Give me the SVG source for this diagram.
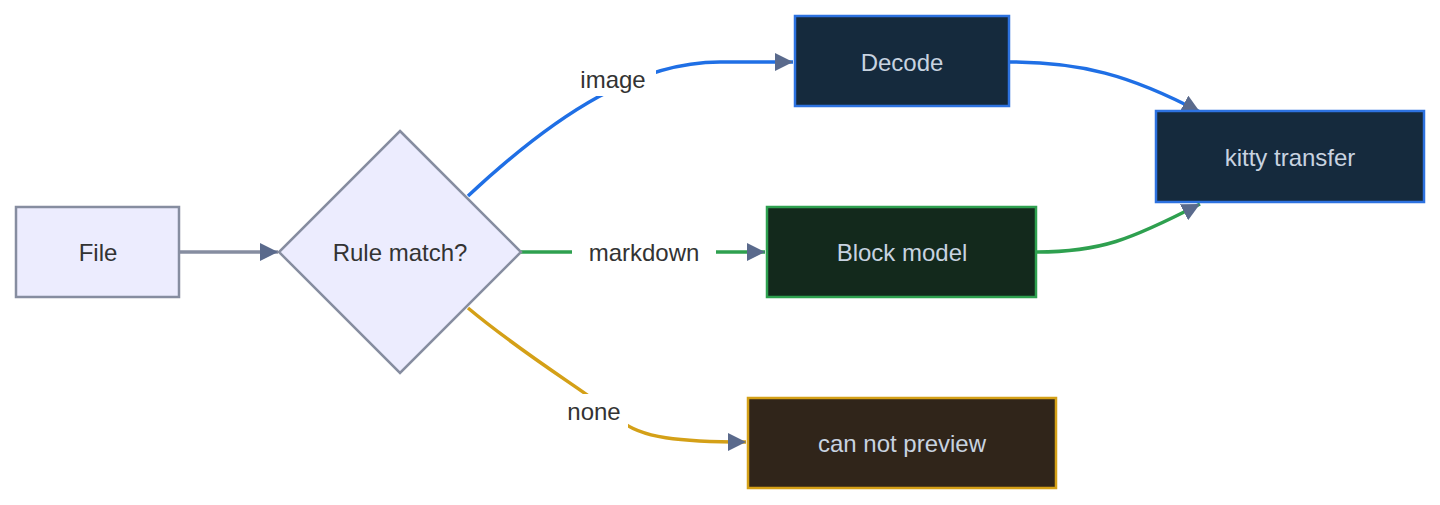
<svg xmlns="http://www.w3.org/2000/svg" width="1440" height="505" viewBox="0 0 1440 505">
<style>
text{font-family:"Liberation Sans",Arial,sans-serif;font-size:24px;text-anchor:middle;dominant-baseline:central}
.lt{fill:#333}
.dk{fill:#c8d3e0}
.e{fill:none;stroke-width:3.5}
.lbl{fill:#fff}
</style>
<defs>
<marker id="a" viewBox="0 0 10 10" refX="9" refY="5" markerWidth="7" markerHeight="7" markerUnits="userSpaceOnUse" orient="auto" style="overflow:visible">
<path d="M0,0 L10,5 L0,10 z" fill="#5a6a8c" transform="scale(1.8) translate(-4,-2.2)"/>
</marker>
<marker id="b" viewBox="0 0 18 18" refX="18" refY="9" markerWidth="18" markerHeight="18" markerUnits="userSpaceOnUse" orient="auto">
<path d="M0,0 L18,9 L0,18 z" fill="#5a6a8c"/>
</marker>
</defs>
<rect width="1440" height="505" fill="#fff"/>
<g id="edges">
<path class="e" stroke="#868da0" d="M180,252 H278" marker-end="url(#b)"/>
<path class="e" stroke="#1f6fe5" d="M468,196 C560,110 640,62 720,62 H793" marker-end="url(#b)"/>
<path class="e" stroke="#2ea04f" d="M521,252 H765" marker-end="url(#b)"/>
<path class="e" stroke="#d4a017" d="M468,308 C530,360 600,400 620,420 C640,438 680,442 746,442" marker-end="url(#b)"/>
<path class="e" stroke="#1f6fe5" d="M1010,62 C1080,62 1130,75 1200,112" marker-end="url(#b)"/>
<path class="e" stroke="#2ea04f" d="M1037,252 C1100,252 1130,240 1200,204" marker-end="url(#b)"/>
<rect class="lbl" x="570" y="62" width="86" height="34"/>
<text class="lt" x="613" y="79">image</text>
<rect class="lbl" x="572" y="236" width="144" height="34"/>
<text class="lt" x="644" y="252">markdown</text>
<rect class="lbl" x="560" y="394" width="68" height="34"/>
<text class="lt" x="594" y="411">none</text>
</g>
<g id="file"><rect x="16" y="207" width="163" height="90" fill="#ececfe" stroke="#868da0" stroke-width="2.5"/><text class="lt" x="98" y="252">File</text></g>
<g id="rule"><polygon points="400,131 521,252 400,373 279,252" fill="#ececfe" stroke="#868da0" stroke-width="2.5"/><text class="lt" x="400" y="252">Rule match?</text></g>
<g id="decode"><rect x="795" y="16" width="214" height="90" fill="#152a3d" stroke="#2d72e0" stroke-width="2.5"/><text class="dk" x="902" y="62">Decode</text></g>
<g id="block"><rect x="767" y="207" width="269" height="90" fill="#13291c" stroke="#2ea04f" stroke-width="2.5"/><text class="dk" x="902" y="252">Block model</text></g>
<g id="none"><rect x="748" y="398" width="308" height="90" fill="#30251a" stroke="#d4a017" stroke-width="2.5"/><text class="dk" x="902" y="443">can not preview</text></g>
<g id="kitty"><rect x="1156" y="111" width="268" height="91" fill="#152a3d" stroke="#2d72e0" stroke-width="2.5"/><text class="dk" x="1290" y="157">kitty transfer</text></g>
</svg>
